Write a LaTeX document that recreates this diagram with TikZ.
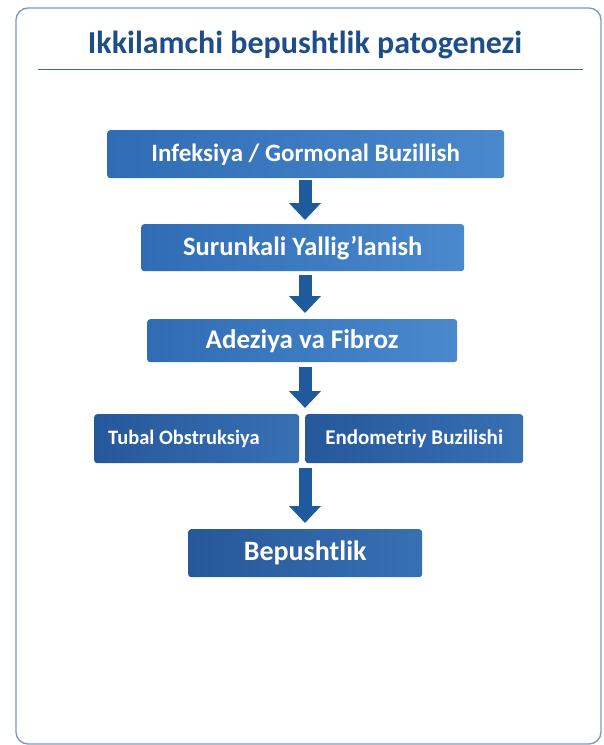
\documentclass[tikz,border=0pt]{standalone}
\usepackage{fontspec}
\setmainfont{Carlito}
\usetikzlibrary{arrows.meta}
\definecolor{titleblue}{HTML}{1E4E8A}
\definecolor{frameblue}{HTML}{7F9CC4}
\definecolor{boxL}{HTML}{2F6CB4}
\definecolor{boxR}{HTML}{4A89CE}
\definecolor{boxDL}{HTML}{25589A}
\definecolor{boxDR}{HTML}{3870B4}
\definecolor{arrowblue}{HTML}{1F5A9C}
\tikzset{
  stepbox/.style={rectangle, rounded corners=3pt, left color=boxL, right color=boxR,
     text=white, inner sep=0pt, anchor=north west},
  darkbox/.style={stepbox, left color=boxDL, right color=boxDR},
  bigarrow/.style={draw=arrowblue, line width=13pt, -{Triangle[width=31pt,length=17pt]}}
}
\begin{document}
\begin{tikzpicture}[x=1pt,y=-1pt]
\useasboundingbox (0,0) rectangle (603,745);
\fill[white] (0,0) rectangle (603,745);
% frame
\draw[frameblue, line width=1.4pt, rounded corners=12pt] (16,8) rectangle (601,744);
% title
\node[text=titleblue, font=\bfseries\fontsize{32}{38}\selectfont, anchor=center] (title) at (305,45) {Ikkilamchi bepushtlik patogenezi};
\draw[titleblue!85, line width=1pt] (38,69) -- (583,69);
% boxes
\node[stepbox, minimum width=397pt, minimum height=48pt, font=\bfseries\fontsize{25}{30}\selectfont] (n1) at (107,130) {Infeksiya / Gormonal Buzillish};
\node[stepbox, minimum width=323pt, minimum height=47pt, font=\bfseries\fontsize{26.5}{31}\selectfont] (n2) at (141,224) {Surunkali Yallig’lanish};
\node[stepbox, minimum width=310pt, minimum height=43pt, font=\bfseries\fontsize{27}{32}\selectfont] (n3) at (147,319) {Adeziya va Fibroz};
\node[darkbox, minimum width=205pt, minimum height=49pt, inner xsep=14pt, text width=177pt, align=flush left, font=\bfseries\fontsize{20.5}{24}\selectfont] (n4) at (94,414) {Tubal Obstruksiya};
\node[darkbox, minimum width=218pt, minimum height=49pt, font=\bfseries\fontsize{21}{25}\selectfont] (n5) at (305,414) {Endometriy Buzilishi};
\node[darkbox, minimum width=234pt, minimum height=48pt, font=\bfseries\fontsize{28}{33}\selectfont] (n6) at (188,529) {Bepushtlik};
\coordinate (ax) at (305,0);
\coordinate (gap) at (305,414);
\coordinate (gapb) at (305,463);
% arrows
\draw[bigarrow] ([yshift=-2pt]n1.south -| ax) -- ([yshift=4pt]n2.north -| ax);
\draw[bigarrow] ([yshift=-4pt]n2.south -| ax) -- ([yshift=6pt]n3.north -| ax);
\draw[bigarrow] ([yshift=-5pt]n3.south -| ax) -- ([yshift=6pt]gap);
\draw[bigarrow] ([yshift=-5pt]gapb) -- ([yshift=6pt]n6.north -| ax);
\end{tikzpicture}
\end{document}
